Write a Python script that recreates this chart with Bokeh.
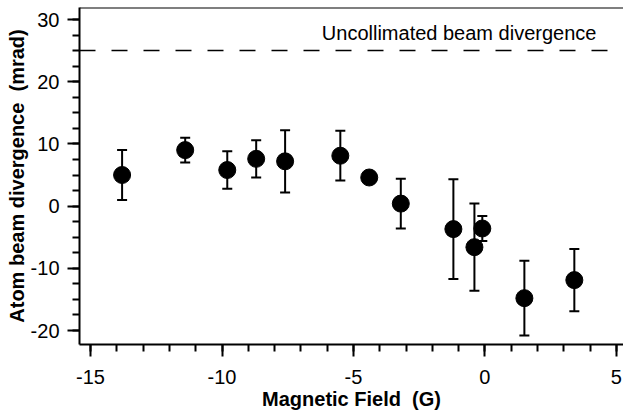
from bokeh.plotting import figure
from bokeh.models import (ColumnDataSource, Whisker, TeeHead, Span, Label,
                          SingleIntervalTicker, Range1d, PrintfTickFormatter)
from bokeh.embed import file_html
from bokeh.resources import INLINE

# Data
field_G = [-13.8, -11.4, -9.8, -8.7, -7.6, -5.5, -4.4, -3.2, -1.2, -0.4, -0.1, 1.5, 3.4]
divergence_mrad = [5.0, 9.0, 5.8, 7.6, 7.2, 8.1, 4.6, 0.4, -3.7, -6.6, -3.6, -14.8, -11.9]
error_mrad = [4.0, 2.0, 3.0, 3.0, 5.0, 4.0, 0.8, 4.0, 8.0, 7.0, 2.0, 6.0, 5.0]
uncollimated_mrad = 25.0
annotation_text = "Uncollimated beam divergence"
x_title = "Magnetic Field\u00a0 (G)"
y_title = "Atom beam divergence\u00a0 (mrad)"

FONT = "Liberation Sans"
Y_TOP = 31.93

src = ColumnDataSource(dict(
    x=field_G,
    y=divergence_mrad,
    upper=[v + e for v, e in zip(divergence_mrad, error_mrad)],
    lower=[v - e for v, e in zip(divergence_mrad, error_mrad)],
))

p = figure(width=623, height=414, output_backend="svg", toolbar_location=None,
           x_range=Range1d(-15.42, 5.27), y_range=Range1d(-22.25, Y_TOP),
           min_border_left=79, min_border_right=0, min_border_top=7, min_border_bottom=70)

p.xgrid.visible = False
p.ygrid.visible = False
p.outline_line_color = None
p.background_fill_color = "white"
p.border_fill_color = "white"

# top frame line
p.add_layout(Span(location=Y_TOP, dimension="width", line_color="black", line_width=2))

# dashed reference line
p.add_layout(Span(location=uncollimated_mrad, dimension="width", line_color="black",
                  line_width=1.5, line_dash="16 16"))
p.add_layout(Label(x=4.24, y=27.9, text=annotation_text, text_align="right",
                   text_baseline="alphabetic", text_font=FONT, text_font_size="20px",
                   text_color="black"))

# error bars
p.add_layout(Whisker(source=src, base="x", upper="upper", lower="lower",
                     dimension="height", line_color="black", line_width=2,
                     upper_head=TeeHead(size=10, line_width=2, line_color="black"),
                     lower_head=TeeHead(size=10, line_width=2, line_color="black")))

p.scatter("x", "y", source=src, size=17, marker="circle",
          fill_color="black", line_color="black")

for ax, tk in ((p.xaxis[0], SingleIntervalTicker(interval=5, num_minor_ticks=5)),
               (p.yaxis[0], SingleIntervalTicker(interval=10, num_minor_ticks=4))):
    ax.ticker = tk
    ax.formatter = PrintfTickFormatter(format="%d")
    ax.axis_line_width = 2
    ax.axis_line_color = "black"
    ax.major_tick_line_width = 2
    ax.minor_tick_line_width = 2
    ax.major_tick_in = 0
    ax.major_tick_out = 12
    ax.minor_tick_in = 0
    ax.minor_tick_out = 7
    ax.major_label_text_font = FONT
    ax.major_label_text_font_size = "20px"
    ax.major_label_text_color = "black"
    ax.axis_label_text_font = FONT
    ax.axis_label_text_font_style = "bold"
    ax.axis_label_text_color = "black"
    ax.axis_label_text_font_size = "20px"

p.xaxis.axis_label = x_title
p.yaxis.axis_label = y_title
p.xaxis.major_label_standoff = 13
p.yaxis.major_label_standoff = 8
p.xaxis.axis_label_standoff = 1
p.yaxis.axis_label_standoff = 0

open("out.html", "w").write(file_html(p, INLINE))
